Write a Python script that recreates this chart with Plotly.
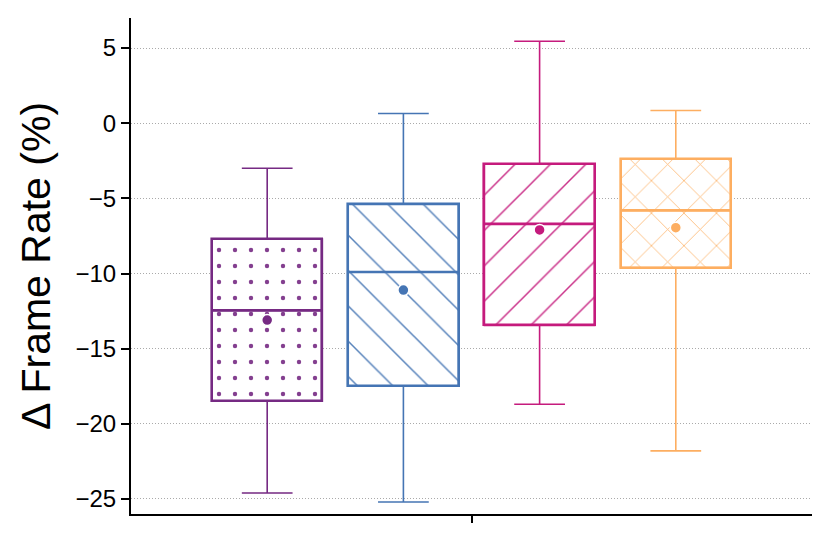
import plotly.graph_objects as go

# Data
groups = ["A", "B", "C", "D"]
positions = [-1.5, -0.5, 0.5, 1.5]
lower = [-24.6, -25.2, -18.7, -21.8]
q1 = [-18.5, -17.5, -13.45, -9.6]
median = [-12.45, -9.9, -6.7, -5.8]
q3 = [-7.7, -5.4, -2.7, -2.4]
upper = [-3.0, 0.65, 5.45, 0.85]
means = [-13.1, -11.1, -7.1, -6.95]

colors = ["#762a83", "#4575b4", "#c51b7d", "#fdae61"]
patterns = [".", "\\", "/", "x"]
pat_sizes = [16, 25, 25, 23]
pat_sol = [0.06, 0.06, 0.06, 0.07]

BW = 0.81
fig = go.Figure()

for i in range(len(groups)):
    fig.add_trace(go.Bar(
        x=[positions[i]], y=[q3[i] - q1[i]], base=[q1[i]], width=BW,
        marker=dict(color="white", line=dict(width=2.6, color=colors[i]),
                    pattern=dict(shape=patterns[i], fgcolor=colors[i], bgcolor="white",
                                 size=pat_sizes[i], solidity=pat_sol[i], fgopacity=0.9)),
        showlegend=False, hoverinfo="skip"))

for i in range(len(groups)):
    fig.add_trace(go.Box(
        x=[positions[i]], q1=[q1[i]], median=[median[i]], q3=[q3[i]],
        lowerfence=[lower[i]], upperfence=[upper[i]],
        width=BW, whiskerwidth=0.46,
        fillcolor="rgba(0,0,0,0)", line=dict(color=colors[i], width=1.6),
        showlegend=False, boxpoints=False, name=groups[i]))
    fig.add_trace(go.Scatter(
        x=[positions[i] - BW / 2, positions[i] + BW / 2], y=[median[i], median[i]],
        mode="lines", line=dict(color=colors[i], width=2.6),
        showlegend=False, hoverinfo="skip"))
    fig.add_trace(go.Scatter(
        x=[positions[i]], y=[means[i]], mode="markers",
        marker=dict(color=colors[i], size=11, line=dict(color="white", width=1.5)),
        showlegend=False))

fig.update_layout(
    width=830, height=543,
    margin=dict(l=123, r=26, t=10, b=37),
    plot_bgcolor="white", paper_bgcolor="white",
    barmode="overlay", bargap=0,
    font=dict(family="Liberation Sans, Arial", color="black"),
)
fig.update_xaxes(range=[-2.5, 2.5], tickvals=[0], ticktext=[""], ticks="outside",
                 ticklen=7, tickwidth=2, tickcolor="black",
                 showline=True, linecolor="black", linewidth=2, showgrid=False,
                 zeroline=False, automargin=False)
fig.update_yaxes(range=[-26, 7], tickvals=[-25, -20, -15, -10, -5, 0, 5],
                 ticktext=["\u221225", "\u221220", "\u221215", "\u221210", "\u22125", "0", "5"],
                 ticks="outside", ticklen=8, tickwidth=1.5, tickcolor="black",
                 tickfont=dict(size=24), showline=True, linecolor="black", linewidth=2,
                 showgrid=True, gridcolor="#aaaaaa", griddash="1px,2px", gridwidth=1,
                 zeroline=False, automargin=False,
                 title=dict(text="\u0394 Frame Rate (%)", font=dict(size=41), standoff=12))

fig.write_html("out.html")
